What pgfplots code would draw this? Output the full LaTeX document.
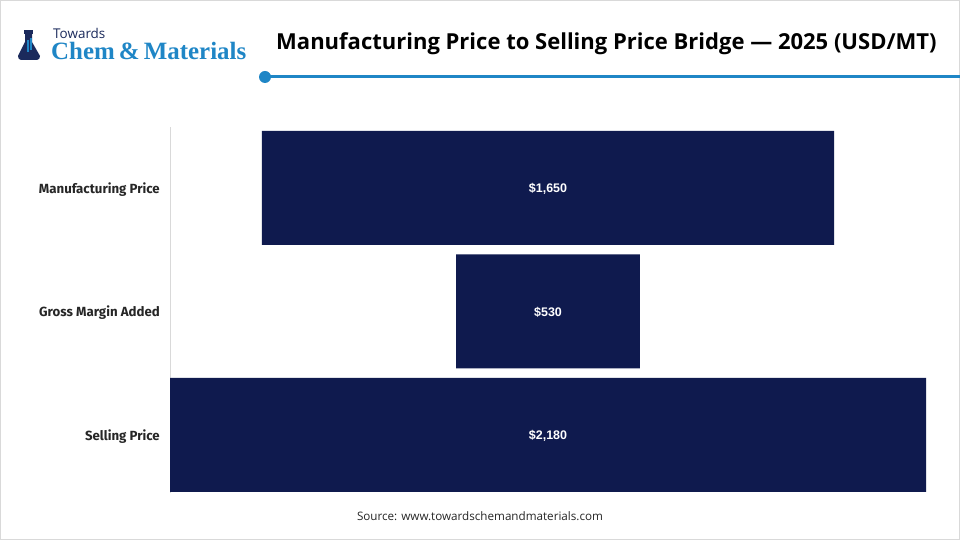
\documentclass[border=0pt]{standalone}
\usepackage{pgfplots}
\pgfplotsset{compat=1.18}
\usepackage{fontspec}
\setmainfont{Open Sans}
\newfontfamily\labfont{Fira Sans}
\newfontfamily\valfont{Liberation Sans}
\newfontfamily\logoserif{Liberation Serif}
\definecolor{barnavy}{HTML}{0F1A4E}
\definecolor{brandblue}{HTML}{1F86C6}
\definecolor{logonavy}{HTML}{1B2A5C}

\begin{document}
\begin{tikzpicture}
\useasboundingbox (0,0) rectangle (960bp,540bp);
\fill[white] (0,0) rectangle (960bp,540bp);
\draw[black!15, line width=1bp] (0.5bp,0.5bp) rectangle (959.5bp,539.5bp);

% logo
\fill[logonavy] (24bp,510bp) rectangle (33bp,506bp);
\fill[logonavy] (25bp,506bp) -- (32bp,506bp) -- (32bp,498bp) -- (40bp,484bp)
  to[out=-90,in=0] (37bp,480bp) -- (21bp,480bp) to[out=180,in=-90] (18bp,484bp)
  -- (25bp,498bp) -- cycle;
\fill[brandblue] (27bp,500bp) rectangle (28.5bp,488bp);
\fill[brandblue] (30bp,502bp) rectangle (31.5bp,490bp);
\node[anchor=base west, inner sep=0pt, text=logonavy, font=\fontsize{13.5}{14}\selectfont] at (53bp,501bp) {Towards};
\node[anchor=base west, inner sep=0pt, text=brandblue, font=\logoserif\bfseries\fontsize{25}{26}\selectfont] at (51bp,480bp) {Chem\,\&\,Materials};

% title
\node[anchor=base west, inner sep=0pt, font=\bfseries\fontsize{22.1}{24}\selectfont] at (276bp,490bp) {Manufacturing Price to Selling Price Bridge — 2025 (USD/MT)};
\draw[brandblue, line width=3bp] (265bp,463bp) -- (960bp,463bp);
\fill[brandblue] (265bp,463bp) circle (6bp);

\begin{axis}[
  at={(170bp,47bp)}, anchor=south west,
  scale only axis, width=756bp, height=366bp,
  xmin=0, xmax=2180, ymin=-0.47, ymax=2.494,
  xbar stacked, bar width=114bp,
  axis x line=none, axis y line*=left,
  y axis line style={draw=black!15, line width=0.8bp, -},
  ytick={0,1,2},
  yticklabels={Selling Price, Gross Margin Added, Manufacturing Price},
  major tick length=0pt,
  yticklabel style={font=\labfont\bfseries\fontsize{13.3}{14}\selectfont, text=black!85, inner sep=0pt, xshift=-10bp, yshift=-1.5bp},
]
\addplot[draw=none, fill=none] coordinates {(0,0) (825,1) (265,2)};
\addplot[draw=none, fill=barnavy] coordinates {(2180,0) (530,1) (1650,2)};
\end{axis}

\begin{axis}[
  at={(170bp,47bp)}, anchor=south west,
  scale only axis, width=756bp, height=366bp,
  xmin=0, xmax=2180, ymin=-0.47, ymax=2.494,
  hide axis,
]
\addplot[draw=none, mark=none, nodes near coords, point meta=explicit symbolic,
  nodes near coords style={font=\valfont\bfseries\fontsize{12.5}{14}\selectfont, text=white, anchor=center, inner sep=0pt, yshift=-1bp}]
  coordinates {(1090,0) [\$2,180] (1090,1) [\$530] (1090,2) [\$1,650]};
\end{axis}

\node[inner sep=0pt, font=\fontsize{11.7}{13}\selectfont, text=black!85] at (480bp,24bp) {Source: www.towardschemandmaterials.com};
\end{tikzpicture}
\end{document}
